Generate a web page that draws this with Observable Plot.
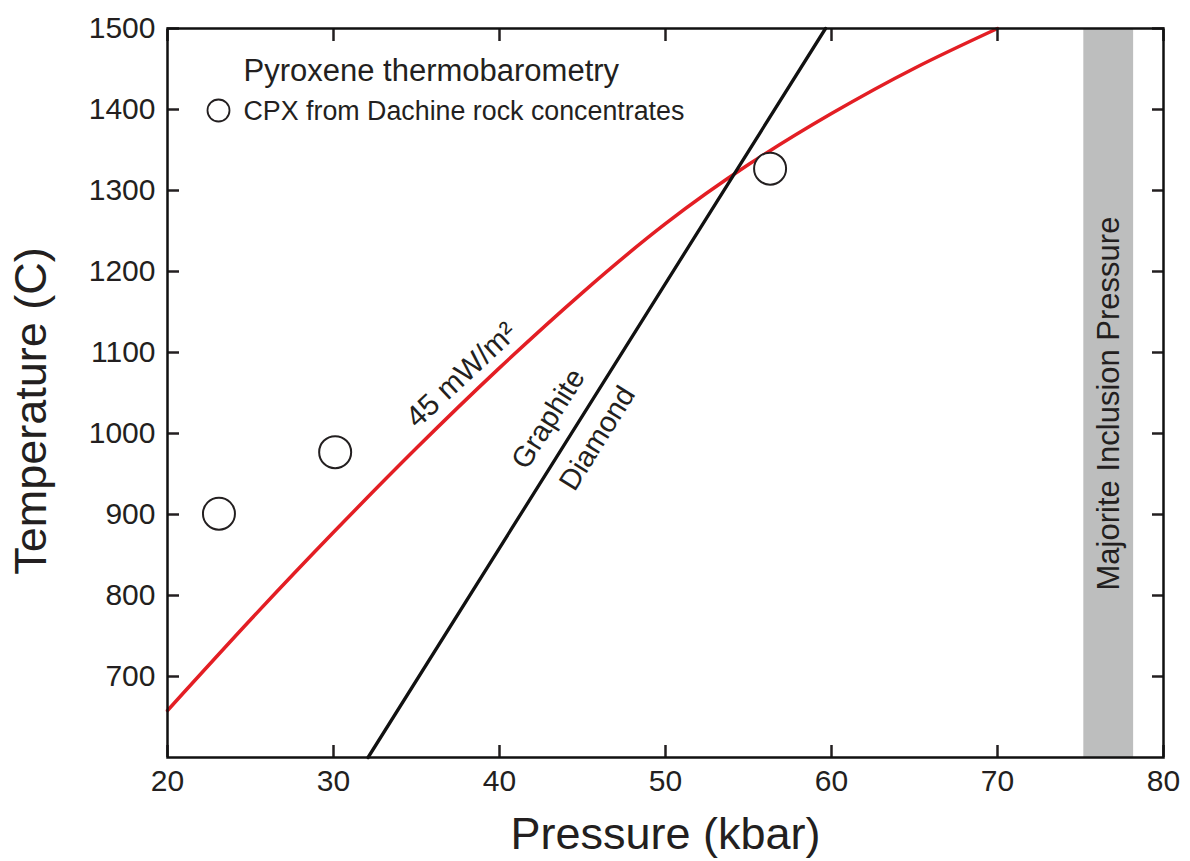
<!DOCTYPE html>
<html><head><meta charset="utf-8">
<script src="https://cdn.jsdelivr.net/npm/d3@7"></script>
<script src="https://cdn.jsdelivr.net/npm/@observablehq/plot@0.6"></script>
<style>body{margin:0;background:#fff;} svg{font-family:"Liberation Sans",Arial,sans-serif;}</style>
</head><body><div id="chart"></div>
<script>
// 45 mW/m2 geotherm (pressure kbar, temperature C)
const geothermP = [20, 25, 30, 35, 40, 45, 50, 55, 60, 65, 70];
const geothermT = [658, 770, 878, 982, 1081, 1174, 1259, 1332, 1395, 1451, 1500];
// Graphite–diamond boundary
const gdP = [32.08, 59.64];
const gdT = [600, 1500];
// CPX from Dachine rock concentrates
const cpxP = [23.1, 30.1, 56.3];
const cpxT = [901, 977, 1327];
// Majorite inclusion pressure band
const bandStart = [75.2];
const bandEnd = [78.2];
// ticks
const xTicks = [20, 30, 40, 50, 60, 70, 80];
const yTicks = [700, 800, 900, 1000, 1100, 1200, 1300, 1400, 1500];
// labels
const geothermLabel = ["45 mW/m²"];
const geothermLabelP = [37.7], geothermLabelT = [1072];
const gdLabels = ["Graphite", "Diamond"];
const gdLabelP = [42.95, 45.9], gdLabelT = [1018, 994];
const bandLabel = ["Majorite Inclusion Pressure"];
const bandLabelT = [1037];
const legendTitle = "Pyroxene thermobarometry";
const legendItem = "CPX from Dachine rock concentrates";

const geotherm = geothermP.map((p, i) => ({p, t: geothermT[i]}));
const gd = gdP.map((p, i) => ({p, t: gdT[i]}));
const cpx = cpxP.map((p, i) => ({p, t: cpxT[i]}));
const band = bandStart.map((s, i) => ({s, e: bandEnd[i]}));
const ink = "#231f20";

const chart = Plot.plot({
  width: 1190, height: 861,
  marginLeft: 167, marginRight: 27, marginTop: 28, marginBottom: 104,
  style: {fontFamily: '"Liberation Sans", Arial, sans-serif', fontSize: "30px", color: ink, background: "#fff"},
  x: {domain: [20, 80]},
  y: {domain: [600, 1500]},
  marks: [
    Plot.rect(band, {x1: "s", x2: "e", fill: "#bdbebe"}),
    Plot.text(bandLabel, {x: (d, i) => (bandStart[i] + bandEnd[i]) / 2, y: (d, i) => bandLabelT[i], text: d => d, rotate: -90, fontSize: 31, fill: ink}),
    Plot.line(geotherm, {x: "p", y: "t", stroke: "#e31e24", strokeWidth: 3.5, curve: "natural"}),
    Plot.line(gd, {x: "p", y: "t", stroke: "#111", strokeWidth: 3.3}),
    Plot.dot(cpx, {x: "p", y: "t", r: 16, stroke: ink, strokeWidth: 2, fill: "#fff"}),
    Plot.text(geothermLabel, {x: (d, i) => geothermLabelP[i], y: (d, i) => geothermLabelT[i], text: d => d, rotate: -43, fontSize: 30, fill: ink}),
    Plot.text(gdLabels, {x: (d, i) => gdLabelP[i], y: (d, i) => gdLabelT[i], text: d => d, rotate: -58, fontSize: 29, fill: ink}),
    // legend
    Plot.text([legendTitle], {frameAnchor: "top-left", dx: 76, dy: 52, lineAnchor: "bottom", textAnchor: "start", fontSize: 31, fill: ink}),
    Plot.dot([0], {frameAnchor: "top-left", dx: 51, dy: 82, r: 11, stroke: ink, strokeWidth: 1.8, fill: "#fff"}),
    Plot.text([legendItem], {frameAnchor: "top-left", dx: 76, dy: 91, lineAnchor: "bottom", textAnchor: "start", fontSize: 26.8, fill: ink}),
    // axes
    Plot.axisX({anchor: "bottom", ticks: xTicks, tickSize: -12, tickPadding: 24, tickFormat: d3.format("d"), label: null, fontSize: 30, strokeWidth: 2.5}),
    Plot.axisX({anchor: "top", ticks: xTicks, tickSize: -12, tickFormat: () => "", label: null, strokeWidth: 2.5}),
    Plot.axisY({anchor: "left", ticks: yTicks, tickSize: -12, tickPadding: 24, tickFormat: d3.format("d"), label: null, fontSize: 30, strokeWidth: 2.5}),
    Plot.axisY({anchor: "right", ticks: yTicks, tickSize: -12, tickFormat: () => "", label: null, strokeWidth: 2.5}),
    Plot.text(["Pressure (kbar)"], {frameAnchor: "bottom", dy: 91, lineAnchor: "bottom", textAnchor: "middle", fontSize: 45, fill: ink}),
    Plot.text(["Temperature (C)"], {frameAnchor: "left", dx: -122, dy: 18, rotate: -90, lineAnchor: "bottom", textAnchor: "middle", fontSize: 45, fill: ink}),
    Plot.frame({stroke: "#111", strokeWidth: 2.5})
  ]
});
document.getElementById("chart").appendChild(chart);
</script>
</body></html>
